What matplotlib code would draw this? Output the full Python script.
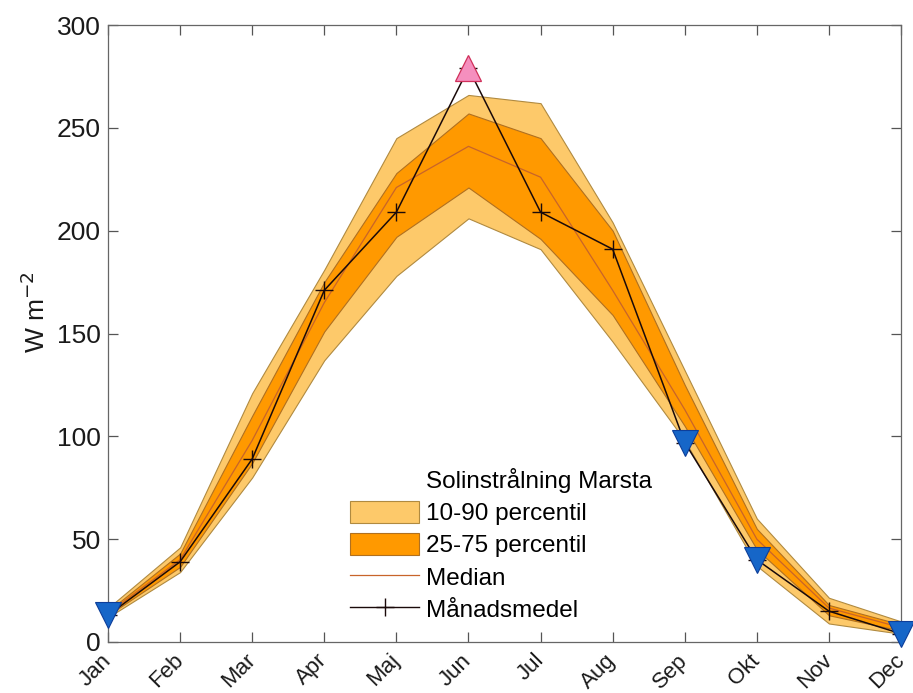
import matplotlib
matplotlib.use("Agg")
import matplotlib.pyplot as plt
from matplotlib.lines import Line2D
from matplotlib.patches import Patch
import numpy as np

plt.rcParams['font.family'] = ['Liberation Sans', 'DejaVu Sans']

months = ['Jan', 'Feb', 'Mar', 'Apr', 'Maj', 'Jun', 'Jul', 'Aug', 'Sep', 'Okt', 'Nov', 'Dec']
p10 = [12, 34, 80, 137, 178, 206, 191, 146, 98, 37, 9, 4]
p25 = [13, 36.5, 87, 151, 197, 221, 196, 159, 105, 45, 13, 5.5]
median = [14, 40, 98, 165, 221, 241, 226, 171, 113, 50, 16.5, 7]
p75 = [15, 43, 110, 175, 228, 257, 245, 200, 125, 55, 18, 8.5]
p90 = [16.5, 46, 121, 181, 245, 266, 262, 204, 132, 60, 21.5, 10]
monthly_mean = [13, 39, 89, 171, 209, 279, 209, 191, 97, 40, 15, 4]
low_months = ['Jan', 'Sep', 'Okt', 'Dec']
high_months = ['Jun']

x = np.arange(1, len(months) + 1)
idx = {m: i for i, m in enumerate(months)}

light = '#FDC96A'
dark = '#FF9900'
edge = '#B08A40'

fig = plt.figure(figsize=(9.13, 6.93), dpi=100)
ax = fig.add_axes([0.1183, 0.0736, 0.8686, 0.8903])

ax.fill_between(x, p10, p90, facecolor=light, edgecolor=edge, linewidth=0.8, zorder=1)
ax.fill_between(x, p25, p75, facecolor=dark, edgecolor='#B07020', linewidth=0.8, zorder=2)
ax.plot(x, median, color='#C8642A', linewidth=0.9, zorder=3)
ax.plot(x, monthly_mean, color='#1A0A0A', linewidth=1.1, marker='+', markersize=13,
        markeredgewidth=1.0, zorder=4)

lx = [x[idx[m]] for m in low_months]
ly = [monthly_mean[idx[m]] for m in low_months]
ax.plot(lx, ly, linestyle='none', marker='v', markersize=19, markerfacecolor='#1666C8',
        markeredgecolor='#0D3E9A', markeredgewidth=0.8, clip_on=False, zorder=6)
hx = [x[idx[m]] for m in high_months]
hy = [monthly_mean[idx[m]] for m in high_months]
ax.plot(hx, hy, linestyle='none', marker='^', markersize=19, markerfacecolor='#F58FBE',
        markeredgecolor='#D0305A', markeredgewidth=0.9, clip_on=False, zorder=6)

ax.set_xlim(1, 12)
ax.set_ylim(0, 300)
ax.set_yticks(np.arange(0, 301, 50))
ax.set_xticks(x)
ax.set_xticklabels(months, fontsize=16)
ax.tick_params(axis='y', labelsize=19, pad=5)
ax.tick_params(axis='x', pad=11)
ax.tick_params(direction='in', length=7, width=0.9, colors='#555555', top=True, right=True,
               labelcolor='#1a1a1a')
for lbl in ax.get_xticklabels():
    lbl.set_rotation(45)
    lbl.set_rotation_mode('anchor')
    lbl.set_ha('right')
    lbl.set_va('center')
for s in ax.spines.values():
    s.set_color('#666666')
    s.set_linewidth(0.9)
ax.set_ylabel('W m$^{-2}$', fontsize=19, color='#1a1a1a')
ax.yaxis.set_label_coords(-0.073, 0.535)

handles = [Line2D([], [], linestyle='none'),
           Patch(facecolor=light, edgecolor=edge, linewidth=0.8),
           Patch(facecolor=dark, edgecolor='#B07020', linewidth=0.8),
           Line2D([], [], color='#C8642A', linewidth=0.9),
           Line2D([], [], color='#1A0A0A', linewidth=1.0, marker='+', markersize=13)]
labels = ['Solinstrålning Marsta', '10-90 percentil', '25-75 percentil', 'Median', 'Månadsmedel']
leg = ax.legend(handles, labels, loc='upper left', bbox_to_anchor=(0.305, 0.282), frameon=False,
                fontsize=17.5, handlelength=2.85, handleheight=1.0, handletextpad=0.3,
                labelspacing=0.33, borderpad=0, borderaxespad=0)

fig.savefig('out.png', dpi=100)
